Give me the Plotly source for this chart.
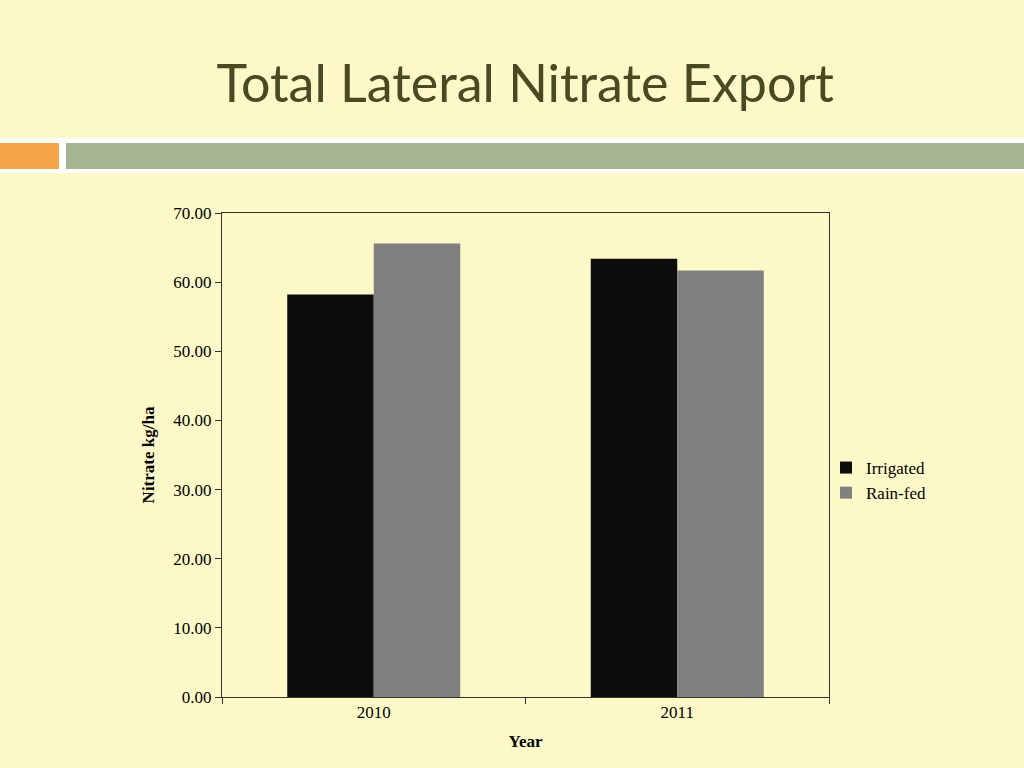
# Total lateral nitrate export, slide-style bar chart
import plotly.graph_objects as go

years = ["2010", "2011"]
irrigated = [58.2, 63.4]
rainfed = [65.6, 61.7]
y_ticks = [0, 10, 20, 30, 40, 50, 60, 70]

W, H = 1024, 768
L, R, T, B = 222, 195, 213, 71
pw, ph = W - L - R, H - T - B


def px_x(x):
    # page pixel -> paper x
    return (x - L) / pw


def px_y(y):
    # page pixel -> paper y
    return (H - B - y) / ph


bg = "#FDF8C8"
serif = "Liberation Serif, Times New Roman, serif"

fig = go.Figure()
fig.add_trace(go.Bar(x=years, y=irrigated, name="Irrigated",
                     marker=dict(color="#0D0D0D", line_width=0)))
fig.add_trace(go.Bar(x=years, y=rainfed, name="Rain-fed",
                     marker=dict(color="#808080", line_width=0)))

# header band: white rules, orange block, green bar
shapes = [
    dict(type="rect", xref="paper", yref="paper", x0=px_x(0), x1=px_x(W),
         y0=px_y(173), y1=px_y(138), fillcolor="white", line_width=0, layer="below"),
    dict(type="rect", xref="paper", yref="paper", x0=px_x(0), x1=px_x(59),
         y0=px_y(169), y1=px_y(143), fillcolor="#F4A548", line_width=0),
    dict(type="rect", xref="paper", yref="paper", x0=px_x(66), x1=px_x(W),
         y0=px_y(169), y1=px_y(143), fillcolor="#A3B592", line_width=0),
]

fig.update_layout(
    width=W,
    height=H,
    paper_bgcolor=bg,
    plot_bgcolor=bg,
    margin=dict(l=L, r=R, t=T, b=B),
    barmode="group",
    bargap=0.43,
    bargroupgap=0,
    shapes=shapes,
    title=dict(
        text="Total Lateral Nitrate Export",
        x=0.513,
        xanchor="center",
        y=1 - 84 / H,
        yanchor="middle",
        font=dict(family="Lato, Noto Sans, sans-serif", size=52, color="#4A4A22"),
    ),
    legend=dict(
        x=px_x(826),
        y=px_y(450),
        xanchor="left",
        yanchor="top",
        bgcolor="rgba(0,0,0,0)",
        font=dict(family=serif, size=17, color="black"),
        itemwidth=30,
        tracegroupgap=2,
    ),
    font=dict(family=serif, color="black"),
)

fig.update_xaxes(
    title=dict(text="<b>Year</b>", font=dict(family=serif, size=17), standoff=13),
    tickfont=dict(family=serif, size=17),
    showline=True,
    linecolor="#333333",
    linewidth=1,
    mirror=True,
    ticks="outside",
    tickson="boundaries",
    ticklen=6,
    tickcolor="#333333",
    showgrid=False,
)
fig.update_yaxes(
    title=dict(text="<b>Nitrate kg/ha</b>", font=dict(family=serif, size=17), standoff=14),
    tickfont=dict(family=serif, size=17),
    range=[0, 70],
    tickvals=y_ticks,
    ticktext=[f"{v:.2f}" for v in y_ticks],
    showline=True,
    linecolor="#333333",
    linewidth=1,
    mirror=True,
    ticks="outside",
    ticklen=6,
    tickcolor="#333333",
    showgrid=False,
    zeroline=False,
)

# drop the browser's default page margin so the slide fills the window
fig.write_html(
    "out.html",
    config={"displayModeBar": False},
    post_script="document.body.style.margin='0';document.body.style.background='%s';" % bg,
)
